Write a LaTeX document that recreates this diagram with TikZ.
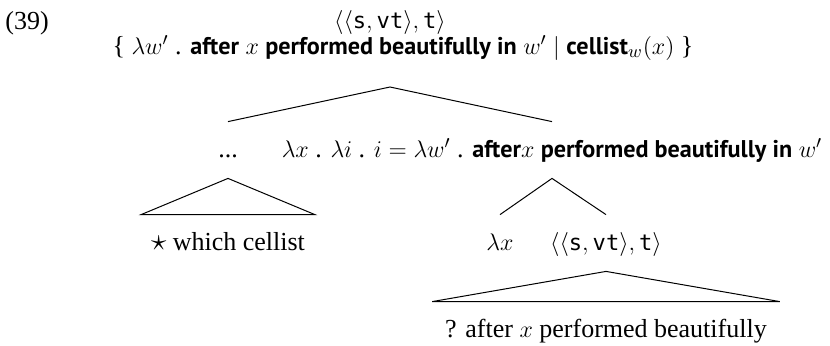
\documentclass[tikz,border=0pt]{standalone}
\usepackage{fontspec}
\setmainfont{Liberation Serif}
\setmonofont{DejaVu Sans Mono}[Scale=0.85]
\newfontfamily\semfont{PT Sans}[Scale=0.93]
\newcommand{\sem}[1]{{\semfont\bfseries #1}}
\newcommand{\ty}[1]{\texttt{#1}}
\newcommand{\tyqt}{$\langle\langle\ty{s},\ty{vt}\rangle,\ty{t}\rangle$}

\begin{document}
\begin{tikzpicture}[
  x=0.5pt, y=-0.5pt,
  every node/.style={font=\fontsize{13}{15}\selectfont},
  lbl/.style={anchor=base, inner xsep=0pt, inner ysep=4.5pt, text height=13pt, text depth=6pt},
  roof/.style={lbl, minimum width=#1},
  branch/.style={line width=0.5pt}
]
\useasboundingbox (0,0) rectangle (830,345);

% root
\node[anchor=base west, inner sep=0pt] (num) at (5,29) {(39)};
\node[anchor=base, inner sep=0pt] (rootT) at (390,28) {\tyqt};
\node[anchor=base, inner sep=0pt] (rootS) at (403,54) {%
  \{ $\lambda w'$ . \sem{after} $x$ \sem{performed beautifully in} $w'$ $|$ \sem{cellist}$_w(x)$ \}};
\coordinate (rootB) at (390,87);

% daughters
\node[lbl] (dots) at (228,157) {...};
\node[lbl] (lam) at (552,157) {%
  $\lambda x$ . $\lambda i$ . $i = \lambda w'$ . \sem{after}$x$ \sem{performed beautifully in} $w'$};

% wh-phrase
\node[roof=86.5pt] (wc) at (228,250) {\scalebox{1.3}{$\star$} which cellist};

% abstraction
\node[lbl] (lx) at (500,250) {$\lambda x$};
\node[lbl] (tp) at (606,250) {\tyqt};
\node[roof=173.5pt] (q) at (606,337) {? after $x$ performed beautifully};

% branches
\draw[branch] (dots.north) -- (rootB) -- (lam.north);
\draw[branch] (dots.south) -- (wc.north west) -- (wc.north east) -- cycle;
\draw[branch] (lx.north) -- (lam.south) -- (tp.north);
\draw[branch] (tp.south) -- (q.north west) -- (q.north east) -- cycle;

\end{tikzpicture}
\end{document}
